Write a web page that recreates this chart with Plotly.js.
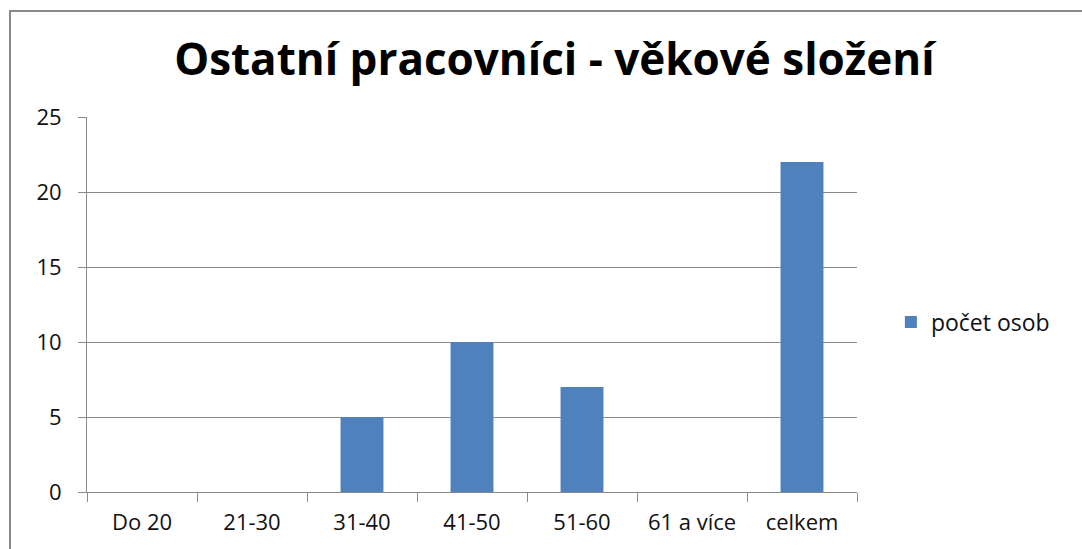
<!DOCTYPE html>
<html>
<head>
<meta charset="utf-8">
<script src="https://cdn.plot.ly/plotly-3.0.1.min.js"></script>
<style>
  html, body { margin: 0; padding: 0; background: #fff; }
  #wrap { position: relative; width: 1082px; height: 549px; overflow: hidden; }
  #chart { width: 1082px; height: 549px; }
  #frame { position: absolute; left: 9px; top: 10px; width: 1200px; height: 700px;
           border-left: 2px solid #8a8a8a; border-top: 2px solid #8a8a8a; pointer-events: none; }
</style>
</head>
<body>
<div id="wrap">
  <div id="chart"></div>
  <div id="frame"></div>
</div>
<script>
const categories = ["Do 20", "21-30", "31-40", "41-50", "51-60", "61 a více", "celkem"];
const values = [0, 0, 5, 10, 7, 0, 22];
const seriesName = "počet osob";
const titleText = "Ostatní pracovníci - věkové složení";

const fontFam = "'Open Sans', 'Noto Sans', sans-serif";

Plotly.newPlot("chart", [{
  type: "bar",
  x: categories,
  y: values,
  name: seriesName,
  marker: { color: "#4F81BD" },
  showlegend: true
}], {
  width: 1082, height: 549,
  margin: { l: 87, r: 225, t: 117, b: 57 },
  paper_bgcolor: "#fff", plot_bgcolor: "#fff",
  bargap: 0.61,
  font: { family: fontFam, size: 22, color: "#111" },
  title: { text: "<b>" + titleText + "</b>", x: 0.607, xref: "paper", xanchor: "center",
           y: 1 - 60 / 549, yref: "container", yanchor: "middle",
           font: { family: fontFam, size: 44, color: "#000" } },
  xaxis: { type: "category", tickson: "boundaries", ticks: "outside", ticklen: 9,
           tickcolor: "#8a8a8a", linecolor: "#8a8a8a", linewidth: 1, showline: true,
           showgrid: false, zeroline: false, tickfont: { size: 22 }, ticklabelstandoff: 11 },
  yaxis: { range: [0, 25], dtick: 5, ticks: "outside", ticklen: 8, tickcolor: "#8a8a8a",
           showline: true, linecolor: "#8a8a8a", gridcolor: "#8a8a8a", gridwidth: 1,
           zeroline: false, tickfont: { size: 22 }, ticklabelstandoff: 12 },
  legend: { x: 1.044, xanchor: "left", y: 0.453, yanchor: "middle",
            font: { size: 23 }, bgcolor: "rgba(0,0,0,0)" }
}, { displayModeBar: false, staticPlot: true });
</script>
</body>
</html>
